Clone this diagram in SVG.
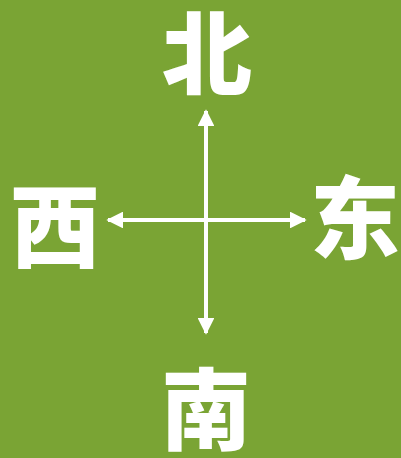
<svg xmlns="http://www.w3.org/2000/svg" width="401" height="458" viewBox="0 0 401 458">
<style>
.lbl{font-family:"Noto Sans CJK SC","Noto Sans CJK JP",sans-serif;font-weight:900;font-size:90px;fill:#fff;text-anchor:middle}
.ln{stroke:#fff;stroke-width:4;fill:none}
</style>
<defs>
<marker id="ah" viewBox="0 0 10 10" refX="9" refY="5" markerWidth="4.2" markerHeight="4.2" orient="auto-start-reverse" markerUnits="strokeWidth">
<path d="M0,0 L10,5 L0,10 z" fill="#fff"/>
</marker>
</defs>
<rect width="401" height="458" fill="#7aa434"/>
<g id="connectors">
<line class="ln" x1="206" y1="111" x2="206" y2="333" marker-start="url(#ah)" marker-end="url(#ah)"/>
<line class="ln" x1="108" y1="220" x2="305" y2="220" marker-start="url(#ah)" marker-end="url(#ah)"/>
</g>
<g id="north"><text class="lbl" x="207" y="87">北</text></g>
<g id="west"><text class="lbl" x="55" y="260">西</text></g>
<g id="east"><text class="lbl" x="355" y="252">东</text></g>
<g id="south"><text class="lbl" x="206" y="443">南</text></g>
</svg>
